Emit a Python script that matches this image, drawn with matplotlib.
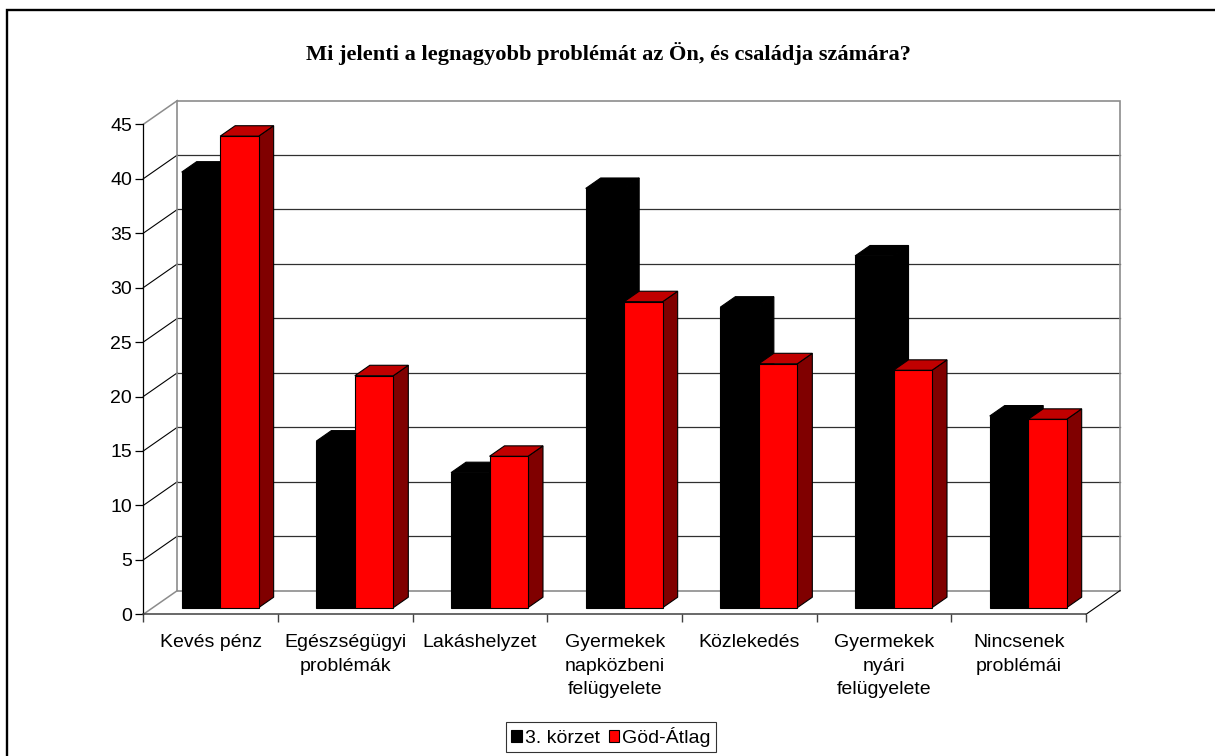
import matplotlib
matplotlib.use('Agg')
import matplotlib.pyplot as plt
from matplotlib.patches import Polygon, Rectangle, Patch
import numpy as np

# survey results (percent)
categories = ['Kevés pénz', 'Egészségügyi\nproblémák', 'Lakáshelyzet',
              'Gyermekek\nnapközbeni\nfelügyelete', 'Közlekedés',
              'Gyermekek\nnyári\nfelügyelete', 'Nincsenek\nproblémái']
korzet3 = [40.0, 15.3, 12.4, 38.5, 27.6, 32.3, 17.6]
god_atlag = [43.3, 21.3, 13.9, 28.1, 22.4, 21.8, 17.3]
series_names = ['3. körzet', 'Göd-Átlag']
y_ticks = [0, 5, 10, 15, 20, 25, 30, 35, 40, 45]
title = 'Mi jelenti a legnagyobb problémát az Ön, és családja számára?'

W, H = 1215, 756

# oblique 3d look: depth offset of the back wall in data units
DX = 0.253
DY = 2.18
F0 = 0.28   # where the bars start in depth
FD = 0.44   # bar depth
BW = 1 / 3.5  # bar width (gap width 150%)

plt.rcParams['font.family'] = ['Liberation Sans', 'DejaVu Sans']

fig = plt.figure(figsize=(W / 100, H / 100), dpi=100)
fig.patch.set_facecolor('white')
ax = fig.add_axes([143.3 / W, (H - 614.3) / H, (1086 - 143.3) / W, 490 / H])
ax.set_xlim(0, len(categories))
ax.set_ylim(0, 45)
ax.patch.set_visible(False)

ncat = len(categories)
wall_grey = '#8c8c8c'
grid_col = '#303030'

# back wall gridlines
for v in y_ticks[1:-1]:
    ax.plot([DX, ncat + DX], [v + DY, v + DY], color=grid_col, lw=0.9, zorder=1, clip_on=False)
    ax.plot([0, DX], [v, v + DY], color='black', lw=0.8, zorder=1, clip_on=False)
# wall / floor borders
ax.add_patch(Rectangle((DX, DY), ncat, y_ticks[-1], fill=False, edgecolor=wall_grey,
                       lw=1.2, zorder=1, clip_on=False))
ax.plot([0, DX], [0, DY], color=wall_grey, lw=1.1, zorder=1, clip_on=False)
ax.plot([0, DX], [y_ticks[-1], y_ticks[-1] + DY], color=wall_grey, lw=1.1, zorder=1, clip_on=False)
ax.plot([ncat, ncat + DX], [0, DY], color='black', lw=0.8, zorder=1, clip_on=False)


def bar3d(x, v, front, top, side, z):
    x0 = x + F0 * DX
    y0 = F0 * DY
    x1 = x0 + BW
    y1 = y0 + v
    dx = FD * DX
    dy = FD * DY
    kw = dict(edgecolor='black', lw=0.8, zorder=z, clip_on=False, joinstyle='miter')
    ax.add_patch(Polygon([(x1, y0), (x1 + dx, y0 + dy), (x1 + dx, y1 + dy), (x1, y1)],
                         facecolor=side, **kw))
    ax.add_patch(Polygon([(x0, y1), (x1, y1), (x1 + dx, y1 + dy), (x0 + dx, y1 + dy)],
                         facecolor=top, **kw))
    ax.add_patch(Polygon([(x0, y0), (x1, y0), (x1, y1), (x0, y1)],
                         facecolor=front, **kw))


for i in range(ncat):
    bar3d(i + 0.75 * BW, korzet3[i], 'black', 'black', 'black', 3 + 2 * i)
    bar3d(i + 1.75 * BW, god_atlag[i], '#ff0000', '#c00000', '#800000', 4 + 2 * i)

# axes
for s in ['top', 'right']:
    ax.spines[s].set_visible(False)
ax.spines['left'].set_color('black')
ax.spines['left'].set_linewidth(0.9)
ax.spines['bottom'].set_color('#404040')
ax.spines['bottom'].set_linewidth(1.1)

ax.set_yticks(y_ticks)
ax.tick_params(axis='y', length=5.8, width=0.9, pad=2.4, labelsize=14, color='black')
ax.set_xticks(np.arange(ncat + 1))
ax.set_xticklabels([])
ax.set_xticks(np.arange(ncat) + 0.5, minor=True)
ax.set_xticklabels(categories, minor=True, linespacing=1.48)
ax.tick_params(axis='x', which='major', length=5.8, width=1.0, color='#404040')
ax.tick_params(axis='x', which='minor', length=0, pad=14.5, labelsize=14)

fig.text(608 / W, 1 - 53.5 / H, title, ha='center', va='center',
         family='Liberation Serif', fontweight='bold', fontsize=16.1)

handles = [Patch(facecolor='black', edgecolor='black', lw=0.8),
           Patch(facecolor='#ff0000', edgecolor='black', lw=0.8)]
leg = fig.legend(handles, series_names, loc='center', bbox_to_anchor=(611 / W, 1 - 737 / H),
                 ncol=2, fontsize=14, frameon=True, fancybox=False, edgecolor='black',
                 handlelength=0.55, handleheight=0.55, handletextpad=0.15,
                 columnspacing=0.45, borderpad=0.25, borderaxespad=0)
leg.get_frame().set_linewidth(0.8)

# outer frame of the chart area
fig.add_artist(Rectangle((7.3 / W, -0.1), 1.2, 1 - 10 / H + 0.1, transform=fig.transFigure,
                         fill=False, edgecolor='black', lw=1.7))

fig.savefig('out.png', dpi=100)
